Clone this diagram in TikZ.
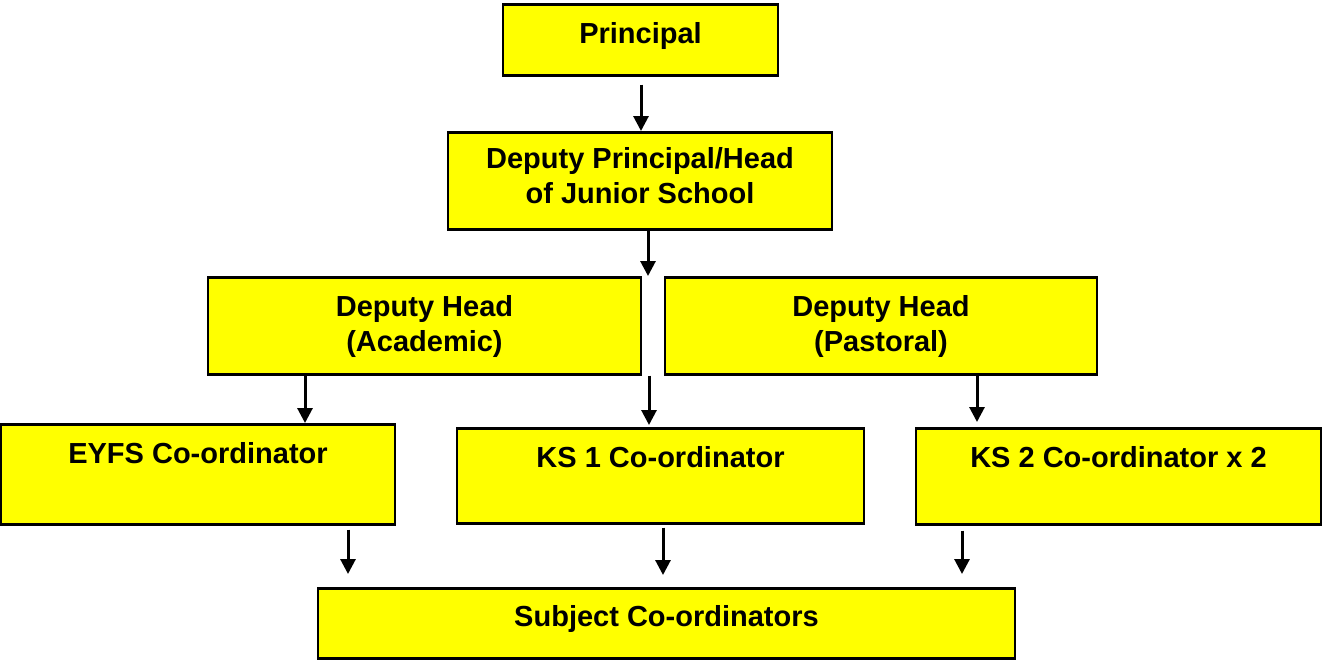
\documentclass[tikz,border=0pt]{standalone}
\usepackage{fontspec}
\setmainfont{Liberation Sans}
\usetikzlibrary{arrows.meta,positioning}
\definecolor{boxyellow}{RGB}{255,255,0}

\begin{document}
\begin{tikzpicture}[x=0.5pt, y=-0.5pt, >={Triangle[width=7.5pt,length=7.5pt]},
  post/.style={draw, fill=boxyellow, line width=1.3pt, inner sep=0pt, anchor=north,
    align=center, font=\bfseries\fontsize{14.5pt}{17.5pt}\selectfont, text height=19.5pt},
  link/.style={->, line width=1.5pt}]
  \useasboundingbox (0,0) rectangle (1323,659);

  % Top of the tree
  \node[post, minimum width=137.5pt, minimum height=35.5pt, text depth=16pt] (prin) at (640.5,3) {Principal};
  \node[post, minimum width=192pt, minimum height=48.5pt, text height=35.5pt, text depth=13pt] (dp) at (640,131) {Deputy Principal/Head\\of Junior School};

  % Deputy heads
  \node[post, minimum width=216.5pt, minimum height=48.5pt, text height=37pt, text depth=11.5pt] (acad) at (424.5,276) {Deputy Head\\(Academic)};
  \node[post, minimum width=216pt, minimum height=48.5pt, text height=37pt, text depth=11.5pt] (past) at (881,276) {Deputy Head\\(Pastoral)};

  % Key stage co-ordinators
  \node[post, minimum width=197pt, minimum height=50pt, text depth=30.5pt] (eyfs) at (198,423) {EYFS Co-ordinator};
  \node[post, minimum width=203.5pt, minimum height=47.5pt, text depth=28pt] (ks1) at (660.5,427) {KS 1 Co-ordinator};
  \node[post, minimum width=202.5pt, minimum height=48pt, text depth=28.5pt] (ks2) at (1118.5,427) {KS 2 Co-ordinator x 2};

  % Bottom row
  \node[post, minimum width=348.5pt, minimum height=35pt, text height=19pt, text depth=16pt] (subj) at (666.5,587) {Subject Co-ordinators};

  % Arrows
  \draw[link, shorten <=4pt] (prin.south -| 641,0) -- (dp.north -| 641,0);
  \draw[link] (dp.south -| 648,0) -- (acad.north -| 648,0);
  \draw[link] (acad.south -| 305,0) -- (eyfs.north -| 305,0);
  \draw[link, shorten >=1pt] (acad.south -| 649,0) -- (ks1.north -| 649,0);
  \draw[link, shorten >=2.5pt] (past.south -| 977,0) -- (ks2.north -| 977,0);
  \draw[link, shorten <=2pt, shorten >=6.5pt] (eyfs.south -| 348,0) -- (subj.north -| 348,0);
  \draw[link, shorten <=1.5pt, shorten >=6pt] (ks1.south -| 663,0) -- (subj.north -| 663,0);
  \draw[link, shorten <=2.5pt, shorten >=6.5pt] (ks2.south -| 962,0) -- (subj.north -| 962,0);
\end{tikzpicture}
\end{document}
